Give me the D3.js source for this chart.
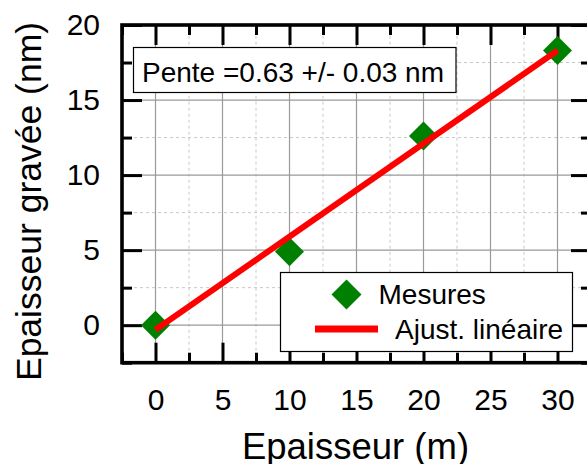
<!DOCTYPE html>
<html>
<head>
<meta charset="utf-8">
<script src="https://cdn.jsdelivr.net/npm/d3@7"></script>
<style>
  html, body { margin: 0; padding: 0; background: #fff; overflow: hidden; }
  svg { display: block; font-family: "Liberation Sans", Arial, sans-serif; }
  svg text { font-family: "Liberation Sans", Arial, sans-serif; }
</style>
</head>
<body>
<script>
// ---- data ----
const measX = [0, 10, 20, 30];
const measY = [0, 4.9, 12.6, 18.3];
const fitX = [0, 30];
const fitY = [-0.3, 18.3];
const xMajorTicks = [0, 5, 10, 15, 20, 25, 30];
const xMinorTicks = [-2.5, 2.5, 7.5, 12.5, 17.5, 22.5, 27.5, 32.5];
const yMajorTicks = [0, 5, 10, 15, 20];
const yMinorTicks = [-2.5, 2.5, 7.5, 12.5, 17.5];
const xTitle = "Epaisseur (m)";
const yTitle = "Epaisseur gravée (nm)";
const annotation = "Pente =0.63 +/- 0.03 nm";
const legendLabels = ["Mesures", "Ajust. linéaire"];

const W = 587, H = 464;
const svg = d3.select("body").append("svg").attr("width", W).attr("height", H);

const x = d3.scaleLinear().domain([-2.5, 32.5]).range([122, 591]);
const y = d3.scaleLinear().domain([-2.5, 20]).range([362.7, 25]);
const [x0, x1] = x.range();
const [y0, y1] = y.range();

// grid
const grid = svg.append("g");
grid.selectAll(".vmin").data(xMinorTicks.filter(v => v > -2.5 && v < 32.5)).join("line")
  .attr("x1", d => x(d)).attr("x2", d => x(d)).attr("y1", y0).attr("y2", y1)
  .attr("stroke", "#c8c8c8").attr("stroke-width", 1).attr("stroke-dasharray", "3,3");
grid.selectAll(".hmin").data(yMinorTicks.filter(v => v > -2.5)).join("line")
  .attr("y1", d => y(d)).attr("y2", d => y(d)).attr("x1", x0).attr("x2", x1)
  .attr("stroke", "#c8c8c8").attr("stroke-width", 1).attr("stroke-dasharray", "3,3");
grid.selectAll(".vmaj").data(xMajorTicks).join("line")
  .attr("x1", d => x(d)).attr("x2", d => x(d)).attr("y1", y0).attr("y2", y1)
  .attr("stroke", "#9a9a9a").attr("stroke-width", 1.2);
grid.selectAll(".hmaj").data(yMajorTicks.filter(v => v < 20)).join("line")
  .attr("y1", d => y(d)).attr("y2", d => y(d)).attr("x1", x0).attr("x2", x1)
  .attr("stroke", "#9a9a9a").attr("stroke-width", 1.2);

// axes
function styleAxis(g, showText) {
  g.attr("font-family", null);
  g.select(".domain").remove();
  g.selectAll(".tick line").attr("stroke", "#000").attr("stroke-width", 3);
  if (!showText) g.selectAll(".tick text").remove();
  else g.selectAll(".tick text").attr("font-size", 30).attr("fill", "#000");
}
svg.append("g").attr("transform", `translate(0,${y0})`)
  .call(d3.axisBottom(x).tickValues(xMajorTicks).tickSize(-20).tickSizeOuter(0).tickPadding(26))
  .call(g => styleAxis(g, true));
svg.append("g").attr("transform", `translate(0,${y0})`)
  .call(d3.axisBottom(x).tickValues(xMinorTicks).tickSize(-10).tickSizeOuter(0))
  .call(g => styleAxis(g, false));
svg.append("g").attr("transform", `translate(0,${y1})`)
  .call(d3.axisTop(x).tickValues(xMajorTicks).tickSize(-20).tickSizeOuter(0))
  .call(g => styleAxis(g, false));
svg.append("g").attr("transform", `translate(0,${y1})`)
  .call(d3.axisTop(x).tickValues(xMinorTicks).tickSize(-10).tickSizeOuter(0))
  .call(g => styleAxis(g, false));
svg.append("g").attr("transform", `translate(${x0},0)`)
  .call(d3.axisLeft(y).tickValues(yMajorTicks).tickSize(-20).tickSizeOuter(0).tickPadding(22))
  .call(g => styleAxis(g, true));
svg.append("g").attr("transform", `translate(${x0},0)`)
  .call(d3.axisLeft(y).tickValues(yMinorTicks).tickSize(-10).tickSizeOuter(0))
  .call(g => styleAxis(g, false));
svg.append("g").attr("transform", `translate(${x1},0)`)
  .call(d3.axisRight(y).tickValues(yMajorTicks).tickSize(-20).tickSizeOuter(0))
  .call(g => styleAxis(g, false));
svg.append("g").attr("transform", `translate(${x1},0)`)
  .call(d3.axisRight(y).tickValues(yMinorTicks).tickSize(-10).tickSizeOuter(0))
  .call(g => styleAxis(g, false));

// frame
svg.append("rect").attr("x", x0).attr("y", y1).attr("width", x1 - x0).attr("height", y0 - y1)
  .attr("fill", "none").attr("stroke", "#000").attr("stroke-width", 3.6);

// annotation box
const ann = svg.append("g");
ann.append("rect").attr("x", 133.5).attr("y", 47.5).attr("width", 322.5).attr("height", 45)
  .attr("fill", "#fff").attr("stroke", "#000").attr("stroke-width", 1.2);
ann.append("text").attr("x", 142).attr("y", 81.5).attr("font-size", 28).attr("fill", "#000")
  .text(annotation);

// markers
const diamond = r => `M0,${-r}L${r},0L0,${r}L${-r},0Z`;
const pts = measX.map((v, i) => [v, measY[i]]);
svg.append("g").selectAll("path").data(pts).join("path")
  .attr("transform", d => `translate(${x(d[0])},${y(d[1])})`)
  .attr("d", diamond(14.5)).attr("fill", "#008000");

// fit line
const fitPts = fitX.map((v, i) => [v, fitY[i]]);
svg.append("path").datum(fitPts)
  .attr("d", d3.line().x(d => x(d[0])).y(d => y(d[1])))
  .attr("fill", "none").attr("stroke", "#ff0000").attr("stroke-width", 6);

// legend
const lg = svg.append("g");
lg.append("rect").attr("x", 280.5).attr("y", 272.5).attr("width", 292).attr("height", 79)
  .attr("fill", "#fff").attr("stroke", "#000").attr("stroke-width", 1.2);
lg.append("path").attr("transform", "translate(346.5,294.5)").attr("d", diamond(15)).attr("fill", "#008000");
lg.append("line").attr("x1", 315).attr("x2", 378).attr("y1", 329).attr("y2", 329)
  .attr("stroke", "#ff0000").attr("stroke-width", 7);
lg.append("text").attr("x", 378.5).attr("y", 303.5).attr("font-size", 28).text(legendLabels[0]);
lg.append("text").attr("x", 395).attr("y", 338.5).attr("font-size", 28).text(legendLabels[1]);

// titles
svg.append("text").attr("x", 355.5).attr("y", 459).attr("text-anchor", "middle")
  .attr("font-size", 36.5).text(xTitle);
svg.append("text").attr("transform", "translate(41,201.5) rotate(-90)").attr("text-anchor", "middle")
  .attr("font-size", 35.5).text(yTitle);
</script>
</body>
</html>
